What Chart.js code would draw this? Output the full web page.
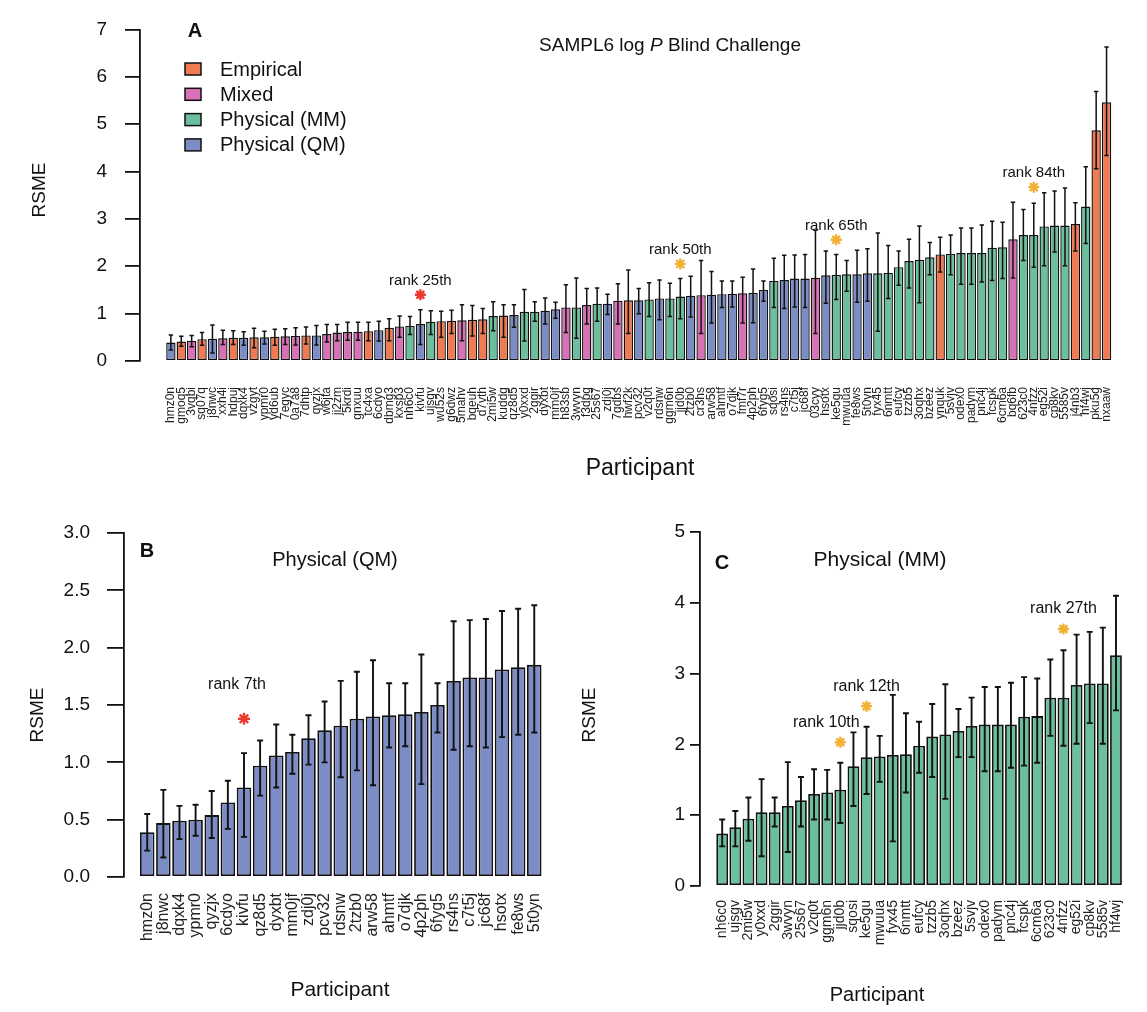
<!DOCTYPE html>
<html><head><meta charset="utf-8">
<script src="https://cdn.jsdelivr.net/npm/chart.js@4.4.1/dist/chart.umd.min.js"></script>
<style>
html,body{margin:0;padding:0;background:#fff;}
#wrap{position:relative;width:1147px;height:1012px;overflow:hidden;background:#fff;}
canvas{position:absolute;}
</style></head><body>
<div id="wrap">
<canvas id="cA" width="1147" height="490" style="left:0;top:0;width:1147px;height:490px"></canvas>
<canvas id="cB" width="570" height="512" style="left:0;top:500px;width:570px;height:512px"></canvas>
<canvas id="cC" width="577" height="512" style="left:570px;top:500px;width:577px;height:512px"></canvas>
</div>
<script>
// ---------- DATA ----------
const participants = ['hmz0n','gmoq5','3vqbi','sq07q','j8nwc','xxh4i','hdpuj','dqxk4','vzgyt','ypmr0',
 'yd6ub','7egyc','0a7a8','7dhtp','qyzjx','w6jta','ji2zm','5krdi','gnxuu','tc4xa',
 '6cdyo','dbmg3','kxsp3','nh6c0','kivfu','ujsgv','wu52s','g6dwz','5mahv','bqeuh',
 'd7vth','2mi5w','kuddg','qz8d5','y0xxd','2ggir','dyxbt','mm0jf','h83sb','3wvyn',
 'f3dpg','25s67','zdj0j','7gdbs','hwf2k','pcv32','v2q0t','rdsnw','ggm6n','jjd0b',
 '2tzb0','cr3hs','arw58','ahmtf','o7djk','fmf7r','4p2ph','6fyg5','sqosi','rs4ns',
 'c7t5j','jc68f','03cyy','hsotx','ke5gu','mwuua','fe8ws','5t0yn','fyx45','6nmtt',
 'eufcy','tzzb5','3oqhx','bzeez','ynquk','5svjv','odex0','padym','pnc4j','fcspk',
 '6cm6a','bq6fb','623c0','4nfzz','eg52i','cp8kv','5585v','j4nb3','hf4wj','pku5g','nxaaw'];
const methodType = ['QM','E','M','E','QM','M','E','QM','E','QM',
 'E','M','M','E','QM','M','M','M','M','E',
 'QM','E','M','MM','QM','MM','E','E','M','E',
 'E','MM','E','QM','MM','MM','QM','QM','M','MM',
 'M','MM','QM','M','E','QM','MM','QM','MM','MM',
 'QM','M','QM','QM','QM','M','QM','QM','MM','QM',
 'QM','QM','M','QM','MM','MM','QM','QM','MM','MM',
 'MM','MM','MM','MM','E','MM','MM','MM','MM','MM',
 'MM','M','MM','MM','MM','MM','MM','E','MM','E','E'];
const rmse = [0.39,0.41,0.43,0.46,0.47,0.48,0.49,0.49,0.50,0.50,
 0.51,0.52,0.53,0.54,0.54,0.57,0.60,0.61,0.62,0.63,
 0.65,0.70,0.73,0.74,0.78,0.83,0.84,0.85,0.86,0.87,
 0.88,0.95,0.96,0.97,1.04,1.04,1.06,1.09,1.13,1.13,
 1.18,1.21,1.21,1.27,1.28,1.28,1.30,1.32,1.32,1.36,
 1.38,1.39,1.40,1.41,1.42,1.43,1.44,1.50,1.69,1.71,
 1.74,1.74,1.76,1.81,1.82,1.83,1.83,1.85,1.85,1.86,
 1.98,2.11,2.14,2.19,2.25,2.26,2.28,2.28,2.28,2.39,
 2.40,2.57,2.66,2.66,2.84,2.86,2.86,2.89,3.26,4.87,5.46];
const ciLow = [0.23,0.31,0.30,0.33,0.17,0.35,0.35,0.33,0.28,0.36,
 0.33,0.35,0.34,0.36,0.34,0.40,0.43,0.44,0.44,0.43,
 0.42,0.43,0.50,0.56,0.35,0.56,0.50,0.58,0.43,0.53,
 0.58,0.64,0.50,0.71,0.42,0.84,0.78,0.90,0.60,0.48,
 0.78,0.84,0.98,0.78,0.58,1.00,0.94,0.87,0.94,0.89,
 0.93,0.58,0.80,1.13,1.14,0.80,0.81,1.26,1.13,1.11,
 1.14,1.13,0.58,1.22,1.30,1.47,1.24,1.26,0.63,1.32,
 1.60,1.54,1.23,1.82,1.88,1.82,1.62,1.62,1.67,1.70,
 1.74,1.75,2.12,1.98,2.01,2.30,2.01,2.32,2.48,4.06,4.34];
const ciHigh = [0.55,0.52,0.54,0.60,0.76,0.65,0.64,0.62,0.69,0.63,
 0.67,0.68,0.70,0.72,0.75,0.77,0.77,0.82,0.82,0.82,
 0.84,0.89,0.95,0.94,1.08,1.06,1.05,1.07,1.19,1.17,
 1.11,1.25,1.19,1.19,1.51,1.25,1.33,1.24,1.61,1.75,
 1.53,1.54,1.41,1.63,1.92,1.53,1.65,1.71,1.64,1.74,
 1.79,2.12,1.89,1.69,1.69,1.77,1.94,1.69,2.17,2.23,
 2.24,2.25,2.76,2.32,2.25,2.12,2.34,2.37,2.70,2.44,
 2.32,2.57,2.85,2.50,2.61,2.66,2.81,2.81,2.87,2.95,
 2.93,3.35,3.20,3.33,3.55,3.59,3.65,3.34,4.10,5.69,6.63];

const typeCodes = ['E','M','MM','QM'];
const typeNames = ['Empirical','Mixed','Physical (MM)','Physical (QM)'];
const typeColors = ['#F07B53','#D871B6','#6CBF9D','#7C8DC6'];

const yTicksA = [0,1,2,3,4,5,6,7];
const yTicksB = [0,0.5,1.0,1.5,2.0,2.5,3.0];
const yTicksC = [0,1,2,3,4,5];

const rankIdsA = ['kivfu','jjd0b','ke5gu','4nfzz'];
const rankTextA = ['rank 25th','rank 50th','rank 65th','rank 84th'];
const rankStarA = [1.40,2.05,2.56,3.67];
const rankIdsB = ['kivfu'];
const rankTextB = ['rank 7th'];
const rankStarB = [1.38];
const rankIdsC = ['jjd0b','ke5gu','4nfzz'];
const rankTextC = ['rank 10th','rank 12th','rank 27th'];
const rankStarC = [2.03,2.54,3.63];
const starRed = '#E8392E', starGold = '#F2B134';

// ---------- HELPERS ----------
Chart.defaults.font.family = "'Liberation Sans', Arial, Helvetica, sans-serif";
Chart.defaults.color = '#000';
const colorOf = c => typeColors[typeCodes.indexOf(c)];

function subset(code) {
  const idx = participants.map((p, i) => i).filter(i => code === null || methodType[i] === code);
  return {
    names: idx.map(i => participants[i]),
    vals: idx.map(i => rmse[i]),
    lo: idx.map(i => ciLow[i]),
    hi: idx.map(i => ciHigh[i]),
    cols: idx.map(i => colorOf(methodType[i]))
  };
}

function fontStr(size, bold, italic) {
  return (italic ? 'italic ' : '') + (bold ? 'bold ' : '') + size + "px 'Liberation Sans', Arial, sans-serif";
}

function makeChart(id, d, g) {
  const starColors = g.rankIds.map((r, k) => (g.firstRed && k === 0) ? starRed : starGold);
  const starData = g.rankIds.map((r, k) => ({x: d.names.indexOf(r), y: g.rankStar[k]}));
  const plugin = {
    id: 'deco_' + id,
    afterDatasetsDraw(chart) {
      const ctx = chart.ctx, xs = chart.scales.x, ys = chart.scales.y;
      ctx.save();
      ctx.strokeStyle = '#111';
      ctx.lineWidth = g.errW;
      d.lo.forEach((lo, i) => {
        const x = xs.getPixelForValue(i);
        const y1 = ys.getPixelForValue(lo), y2 = ys.getPixelForValue(d.hi[i]);
        ctx.beginPath();
        ctx.moveTo(x, y1); ctx.lineTo(x, y2);
        ctx.moveTo(x - g.cap, y1); ctx.lineTo(x + g.cap, y1);
        ctx.moveTo(x - g.cap, y2); ctx.lineTo(x + g.cap, y2);
        ctx.stroke();
      });
      ctx.restore();
    },
    afterDraw(chart) {
      const ctx = chart.ctx, xs = chart.scales.x, ys = chart.scales.y;
      ctx.save();
      ctx.fillStyle = '#111';
      ctx.textBaseline = 'middle';
      g.rankIds.forEach((r, k) => {
        const x = xs.getPixelForValue(d.names.indexOf(r)) + (g.rankDx[k] || 0);
        const y = ys.getPixelForValue(g.rankStar[k]) - g.rankOff;
        ctx.font = fontStr(g.rankFont);
        ctx.textAlign = 'center';
        ctx.fillText(g.rankText[k], x, y);
      });
      g.texts.forEach(t => {
        ctx.save();
        ctx.translate(t.x, t.y);
        if (t.rot) ctx.rotate(t.rot);
        ctx.textAlign = t.align || 'center';
        if (t.parts) {
          let total = 0;
          t.parts.forEach(p => { ctx.font = fontStr(t.size, false, p.it); total += ctx.measureText(p.s).width; });
          let x0 = -total / 2;
          ctx.textAlign = 'left';
          t.parts.forEach(p => { ctx.font = fontStr(t.size, false, p.it); ctx.fillText(p.s, x0, 0); x0 += ctx.measureText(p.s).width; });
        } else {
          ctx.font = fontStr(t.size, t.bold);
          ctx.fillText(t.s, 0, 0);
        }
        ctx.restore();
      });
      if (g.legend) {
        typeNames.forEach((n, k) => {
          const y = g.legend.y0 + k * g.legend.dy;
          ctx.fillStyle = typeColors[k];
          ctx.fillRect(g.legend.x, y - 6, 16, 12);
          ctx.strokeStyle = '#111'; ctx.lineWidth = 1.5;
          ctx.strokeRect(g.legend.x, y - 6, 16, 12);
          ctx.fillStyle = '#111';
          ctx.font = fontStr(20);
          ctx.textAlign = 'left';
          ctx.fillText(n, g.legend.x + 35, y + 1);
        });
      }
      ctx.restore();
    }
  };
  return new Chart(document.getElementById(id), {
    type: 'bar',
    data: {
      datasets: [
        {
          type: 'line', showLine: false, data: starData,
          pointStyle: 'star', pointRadius: g.starR, pointHoverRadius: g.starR,
          pointBorderColor: starColors, pointBackgroundColor: starColors, pointBorderWidth: 2.4
        },
        {
          type: 'bar', data: d.vals.map((v, i) => ({x: i, y: v})),
          backgroundColor: d.cols, borderColor: '#111', borderWidth: g.barBorder,
          borderSkipped: false, barPercentage: g.barPct, categoryPercentage: 1.0
        }
      ]
    },
    options: {
      responsive: false, animation: false, events: [],
      layout: {padding: {top: g.padTop, right: g.padRight, left: 0, bottom: 0}},
      plugins: {legend: {display: false}, tooltip: {enabled: false}, title: {display: false}},
      scales: {
        x: {
          type: 'linear', min: g.xMin, max: g.xMax, offset: false,
          grid: {display: false, drawTicks: false}, border: {display: false},
          afterBuildTicks: s => { s.ticks = d.names.map((n, i) => ({value: i})); },
          afterFit: s => { s.height = g.xH; },
          ticks: {autoSkip: false, minRotation: 90, maxRotation: 90, padding: g.xPad,
                  font: {size: g.xFont}, color: '#222', callback: v => d.names[v] !== undefined ? d.names[v] : ''}
        },
        y: {
          type: 'linear', min: 0, max: g.yTicks[g.yTicks.length - 1],
          afterBuildTicks: s => { s.ticks = g.yTicks.map(v => ({value: v})); },
          afterFit: s => { s.width = g.yW; },
          grid: {drawOnChartArea: false, drawTicks: true, tickLength: g.tickLen, color: '#111', lineWidth: 1.8},
          border: {display: true, color: '#111', width: 1.8},
          ticks: {padding: g.tickPad, font: {size: g.yFont}, color: '#111', callback: v => v.toFixed(g.yDec)}
        }
      }
    },
    plugins: [plugin]
  });
}

// ---------- PANEL A ----------
makeChart('cA', subset(null), {
  xMin: -2.97, xMax: 90.56, xH: 129, xPad: 26, xFont: 12, yW: 140, padTop: 21, padRight: 0,
  yTicks: yTicksA, yDec: 0, yFont: 19, tickLen: 15, tickPad: 18,
  barPct: 0.9, barBorder: 1.4, errW: 1.5, cap: 2.2,
  rankIds: rankIdsA, rankText: rankTextA, rankStar: rankStarA, rankDx: [], rankOff: 14, rankFont: 15,
  firstRed: true, starR: 5.5,
  legend: {x: 185, y0: 69, dy: 25.3},
  texts: [
    {s: 'A', x: 195, y: 31, size: 20, bold: true},
    {parts: [{s: 'SAMPL6 log '}, {s: 'P', it: true}, {s: ' Blind Challenge'}], x: 670, y: 46, size: 19},
    {s: 'Participant', x: 640, y: 469, size: 23},
    {s: 'RSME', x: 40, y: 190, size: 19, rot: -Math.PI / 2}
  ]
});

// ---------- PANEL B ----------
makeChart('cB', subset('QM'), {
  xMin: -1.44, xMax: 24.7, xH: 135, xPad: 16, xFont: 16, yW: 124, padTop: 33, padRight: 20,
  yTicks: yTicksB, yDec: 1, yFont: 19, tickLen: 17, tickPad: 17,
  barPct: 0.9, barBorder: 1.8, errW: 1.9, cap: 3,
  rankIds: rankIdsB, rankText: rankTextB, rankStar: rankStarB, rankDx: [-7], rankOff: 34, rankFont: 16,
  firstRed: true, starR: 6,
  texts: [
    {s: 'B', x: 147, y: 51, size: 20, bold: true},
    {s: 'Physical (QM)', x: 335, y: 60, size: 20},
    {s: 'Participant', x: 340, y: 490, size: 21},
    {s: 'RSME', x: 38, y: 215, size: 19, rot: -Math.PI / 2}
  ]
});

// ---------- PANEL C ----------
makeChart('cC', subset('MM'), {
  xMin: -1.69, xMax: 30.95, xH: 126, xPad: 14, xFont: 14, yW: 130, padTop: 32, padRight: 7,
  yTicks: yTicksC, yDec: 0, yFont: 19, tickLen: 10, tickPad: 5,
  barPct: 0.9, barBorder: 1.8, errW: 1.9, cap: 3,
  rankIds: rankIdsC, rankText: rankTextC, rankStar: rankStarC, rankDx: [-14, 0, 0], rankOff: 20, rankFont: 16,
  firstRed: false, starR: 5.5,
  texts: [
    {s: 'C', x: 152, y: 63, size: 20, bold: true},
    {s: 'Physical (MM)', x: 310, y: 60, size: 21},
    {s: 'Participant', x: 307, y: 495, size: 20},
    {s: 'RSME', x: 20, y: 215, size: 19, rot: -Math.PI / 2}
  ]
});
</script>
</body></html>
